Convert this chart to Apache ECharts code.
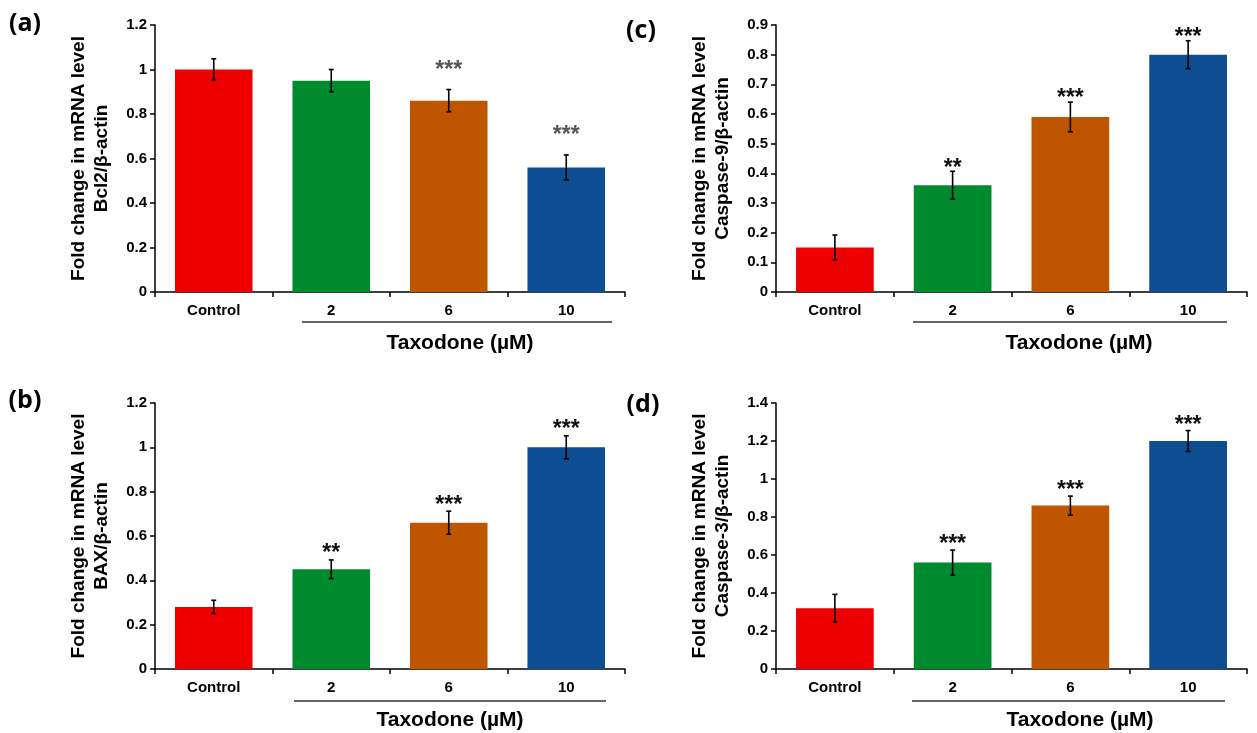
<!DOCTYPE html>
<html><head><meta charset="utf-8">
<script src="https://cdn.jsdelivr.net/npm/echarts@6.0.0/dist/echarts.min.js"></script>
<style>html,body{margin:0;padding:0;background:#fff;}#c{width:1257px;height:733px;}</style>
</head><body><div id="c"></div>
<script>
// ---- data ----
const categories = ['Control', '2', '6', '10'];
const xTitle = 'Taxodone (µM)';

const bcl2Values = [1.0, 0.95, 0.86, 0.56];
const bcl2Errors = [0.048, 0.05, 0.05, 0.056];
const bcl2Sig = ['', '', '***', '***'];

const baxValues = [0.28, 0.45, 0.66, 1.0];
const baxErrors = [0.03, 0.042, 0.052, 0.052];
const baxSig = ['', '**', '***', '***'];

const casp9Values = [0.15, 0.36, 0.59, 0.80];
const casp9Errors = [0.042, 0.047, 0.05, 0.047];
const casp9Sig = ['', '**', '***', '***'];

const casp3Values = [0.32, 0.56, 0.86, 1.2];
const casp3Errors = [0.073, 0.066, 0.05, 0.055];
const casp3Sig = ['', '***', '***', '***'];

// ---- styles / layout ----
const barColors = ['#ee0000', '#008a2e', '#c05500', '#0f4d92'];
const FONT = '"Liberation Sans", Arial, sans-serif';

const panels = [
  { label: '(a)', labelPos: [25, 24], yName: 'Fold change in mRNA level\nBcl2/β-actin',
    values: bcl2Values, errors: bcl2Errors, sig: bcl2Sig, max: 1.2, interval: 0.2,
    grid: { left: 155, top: 25, width: 470, height: 267 }, starGap: 24, starColor: '#555',
    under: [302, 612, 322], titlePos: [460, 343] },
  { label: '(b)', labelPos: [25, 401], yName: 'Fold change in mRNA level\nBAX/β-actin',
    values: baxValues, errors: baxErrors, sig: baxSig, max: 1.2, interval: 0.2,
    grid: { left: 155, top: 403, width: 470, height: 266 }, starGap: 11, starColor: '#111',
    under: [294, 606, 701], titlePos: [450, 720] },
  { label: '(c)', labelPos: [641, 31], yName: 'Fold change in mRNA level\nCaspase-9/β-actin',
    values: casp9Values, errors: casp9Errors, sig: casp9Sig, max: 0.9, interval: 0.1,
    grid: { left: 776, top: 25, width: 471, height: 267 }, starGap: 8, starColor: '#111',
    under: [913, 1227, 322], titlePos: [1079, 343] },
  { label: '(d)', labelPos: [643, 405], yName: 'Fold change in mRNA level\nCaspase-3/β-actin',
    values: casp3Values, errors: casp3Errors, sig: casp3Sig, max: 1.4, interval: 0.2,
    grid: { left: 776, top: 403, width: 471, height: 266 }, starGap: 10, starColor: '#111',
    under: [912, 1225, 701], titlePos: [1080, 720] }
];

function makeRender(p) {
  return function (params, api) {
    const i = api.value(0), v = api.value(1), e = api.value(2);
    const t = api.coord([i, v + e]);
    const b = api.coord([i, v - e]);
    const cap = 2.5;
    const st = { stroke: '#000', lineWidth: 1.6 };
    const children = [
      { type: 'line', shape: { x1: t[0], y1: t[1], x2: b[0], y2: b[1] }, style: st },
      { type: 'line', shape: { x1: t[0] - cap, y1: t[1], x2: t[0] + cap, y2: t[1] }, style: st },
      { type: 'line', shape: { x1: b[0] - cap, y1: b[1], x2: b[0] + cap, y2: b[1] }, style: st }
    ];
    const s = p.sig[params.dataIndex];
    if (s) {
      children.push({ type: 'text', style: {
        text: s, x: t[0], y: t[1] - p.starGap + 5, align: 'center', verticalAlign: 'middle',
        fontSize: 23, fontWeight: 'bold', fontFamily: FONT, fill: p.starColor } });
    }
    return { type: 'group', children };
  };
}

const grids = [], xAxes = [], yAxes = [], series = [], graphics = [];
panels.forEach((p, k) => {
  grids.push(Object.assign({ containLabel: false }, p.grid));
  xAxes.push({
    type: 'category', gridIndex: k, data: categories,
    axisLine: { lineStyle: { color: '#000', width: 1.5 } },
    axisTick: { show: true, length: 5, lineStyle: { color: '#000', width: 1.5 } },
    axisLabel: { color: '#000', fontWeight: 'bold', fontSize: 15, fontFamily: FONT, margin: 11 },
    splitLine: { show: false }
  });
  yAxes.push({
    type: 'value', gridIndex: k, min: 0, max: p.max, interval: p.interval,
    name: p.yName, nameLocation: 'middle', nameGap: 42, nameRotate: 90,
    nameTextStyle: { color: '#000', fontWeight: 'bold', fontSize: 19, fontFamily: FONT, lineHeight: 23 },
    axisLine: { show: true, lineStyle: { color: '#000', width: 1.5 } },
    axisTick: { show: true, length: 5, lineStyle: { color: '#000', width: 1.5 } },
    axisLabel: { color: '#000', fontWeight: 'bold', fontSize: 15, fontFamily: FONT, margin: 8 },
    splitLine: { show: false }
  });
  series.push({
    type: 'bar', xAxisIndex: k, yAxisIndex: k, barWidth: '66%',
    data: p.values.map((v, i) => ({ value: v, itemStyle: { color: barColors[i] } })),
    silent: true
  });
  series.push({
    type: 'custom', xAxisIndex: k, yAxisIndex: k, z: 5, silent: true,
    renderItem: makeRender(p),
    encode: { x: 0, y: 1 },
    data: p.values.map((v, i) => [i, v, p.errors[i]])
  });
  graphics.push({ type: 'line', shape: { x1: p.under[0], y1: p.under[2], x2: p.under[1], y2: p.under[2] },
    style: { stroke: '#333', lineWidth: 1.5 } });
  graphics.push({ type: 'text', x: p.titlePos[0], y: p.titlePos[1],
    style: { text: xTitle, align: 'center', verticalAlign: 'middle', fontSize: 21, fontWeight: 'bold', fontFamily: FONT, fill: '#000' } });
  graphics.push({ type: 'text', x: p.labelPos[0], y: p.labelPos[1],
    style: { text: p.label, align: 'center', verticalAlign: 'middle', fontSize: 25, fontWeight: 'bold', fontFamily: '"Open Sans", sans-serif', fill: '#000' } });
});

const chart = echarts.init(document.getElementById('c'), null, { renderer: 'canvas' });
chart.setOption({
  animation: false,
  backgroundColor: '#fff',
  grid: grids, xAxis: xAxes, yAxis: yAxes, series: series, graphic: graphics
});
</script></body></html>
